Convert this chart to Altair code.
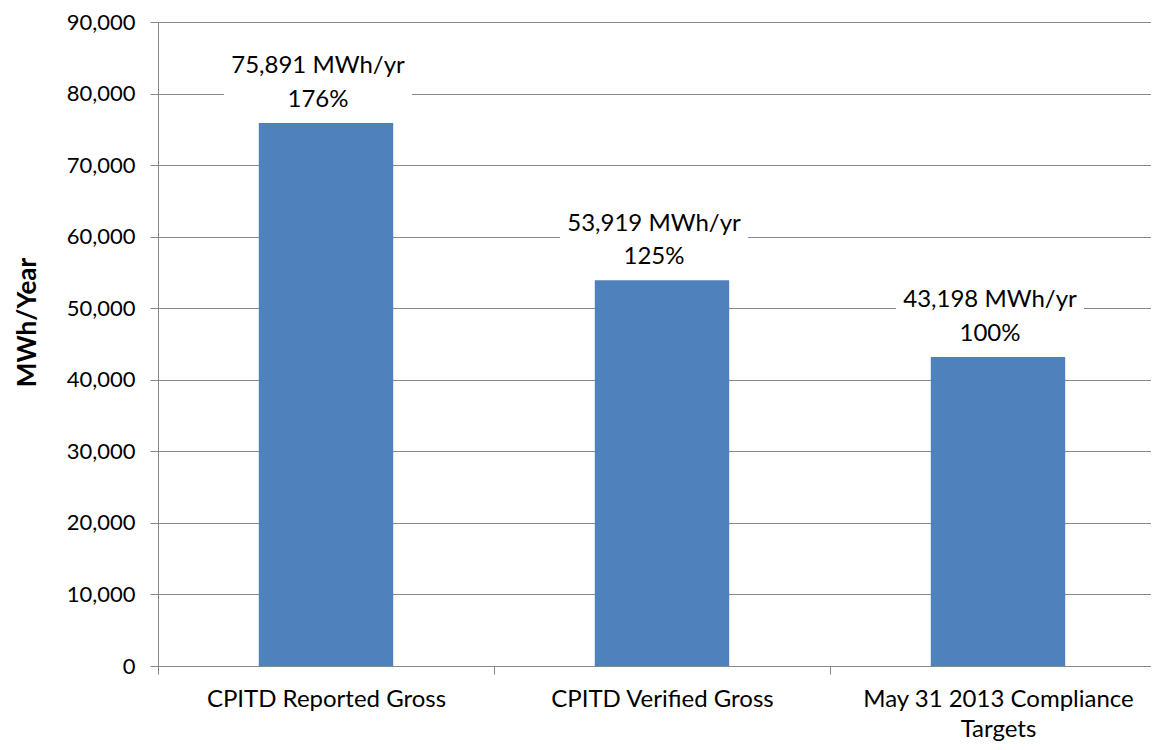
import altair as alt
import pandas as pd

categories = ["CPITD Reported Gross", "CPITD Verified Gross", "May 31 2013 Compliance Targets"]
values = [75891, 53919, 43198]
percents = [176, 125, 100]
y_ticks = [0, 10000, 20000, 30000, 40000, 50000, 60000, 70000, 80000, 90000]
wrapped = {"May 31 2013 Compliance Targets": ["May 31 2013 Compliance", "Targets"]}

df = pd.DataFrame({"category": categories, "value": values, "pct": percents})
df["line1"] = [f"{v:,} MWh/yr" for v in values]
df["line2"] = [f"{p}%" for p in percents]

FONT = "Lato"
GRAY = "#888888"
BLUE = "#4F81BD"

label_expr = "datum.label"
for k, parts in wrapped.items():
    arr = "[" + ",".join("'" + p + "'" for p in parts) + "]"
    label_expr = f"datum.label == '{k}' ? {arr} : " + label_expr

x_enc = alt.X(
    "category:N",
    sort=categories,
    scale=alt.Scale(paddingInner=0, paddingOuter=0, range=[0, 1008]),
    axis=alt.Axis(
        title=None,
        labelAngle=0,
        tickBand="extent",
        labelExpr=label_expr,
        labelFont=FONT,
        labelFontSize=24,
        labelColor="black",
        labelLineHeight=30,
        labelPadding=13,
        labelLimit=400,
        tickSize=8,
        tickColor=GRAY,
        domainColor=GRAY,
        grid=False,
    ),
)

y_enc = alt.Y(
    "value:Q",
    scale=alt.Scale(domain=[0, 90000], nice=False),
    axis=alt.Axis(
        values=y_ticks,
        format=",.0f",
        title="MWh/Year",
        titleFont=FONT,
        titleFontSize=26,
        titleFontWeight="bold",
        titleColor="black",
        titleY=300,
        titleX=-118,
        labelFont=FONT,
        labelFontSize=22,
        labelColor="black",
        labelPadding=15,
        tickSize=8,
        tickColor=GRAY,
        domainColor=GRAY,
        grid=True,
        gridColor=GRAY,
    ),
)

base = alt.Chart(df)

bars = base.mark_bar(color=BLUE, width=alt.RelativeBandSize(0.4)).encode(x=x_enc, y=y_enc)

boxes = base.mark_rect(color="white", width=188, height=66, yOffset=-41, xOffset=-8).encode(
    x=alt.X("category:N", sort=categories), y=alt.Y("value:Q")
)

text1 = base.mark_text(font=FONT, fontSize=24, color="black", baseline="alphabetic", dy=-49.5, dx=-8).encode(
    x=alt.X("category:N", sort=categories), y=alt.Y("value:Q"), text="line1:N"
)
text2 = base.mark_text(font=FONT, fontSize=24, color="black", baseline="alphabetic", dy=-16, dx=-8).encode(
    x=alt.X("category:N", sort=categories), y=alt.Y("value:Q"), text="line2:N"
)

chart = (
    alt.layer(bars, boxes, text1, text2)
    .properties(
        width=993,
        height=644,
        autosize=alt.AutoSizeParams(type="none"),
        padding={"left": 150, "top": 14, "right": 0, "bottom": 76},
        background="white",
    )
    .configure_view(stroke=None)
)

chart.save("out.html", embed_options={"renderer": "svg", "actions": False})
